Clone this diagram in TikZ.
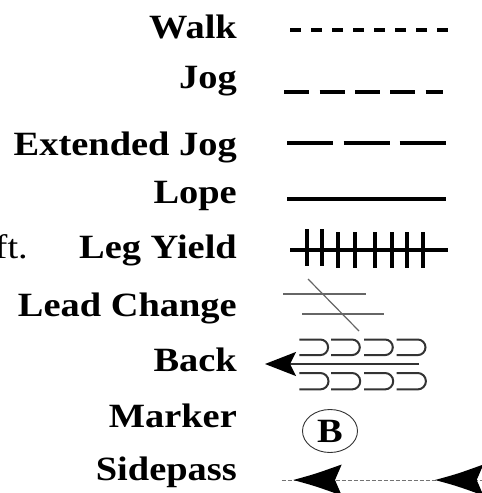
\documentclass[tikz,border=0pt]{standalone}
\usepackage{fontspec}
\setmainfont{Liberation Serif}[FakeStretch=1.13]
\usetikzlibrary{arrows.meta,shapes.geometric}
\tikzset{
  lbl/.style={anchor=base east,inner sep=0pt,font=\fontsize{34}{36}\selectfont\bfseries},
  thick line/.style={line width=4.2pt,black},
  yieldline/.style={line width=3.6pt,black},
  leadline/.style={line width=1.2pt,black!60},
  ushape/.style={line width=2pt,black!80},
  sidedash/.style={line width=1pt,black!55,dash pattern=on 4pt off 2pt},
  headfill/.style={fill=black},
}
\begin{document}
\begin{tikzpicture}[x=1pt,y=-1pt]
\useasboundingbox (0,0) rectangle (482,493);
\clip (0,0) rectangle (482,493);
% labels
\node[lbl] (lwalk) at (237,38) {Walk};
\node[lbl] (ljog) at (237,88) {Jog};
\node[lbl] (lext) at (237,155) {Extended Jog};
\node[lbl] (llope) at (237,203) {Lope};
\node[lbl] (lleg) at (237,258) {Leg Yield};
\node[lbl] (llead) at (237,316) {Lead Change};
\node[lbl] (lback) at (237,371) {Back};
\node[lbl] (lmark) at (237,427) {Marker};
\node[lbl] (lside) at (237,480) {Sidepass};
\node[anchor=base east,inner sep=0pt,font=\fontsize{34}{36}\selectfont] (lft) at (28,258) {ft.};
% walk
\coordinate (w1) at (290,30); \coordinate (w2) at (448.3,30);
\draw[thick line,dash pattern=on 11pt off 10.05pt] (w1) -- (w2);
% jog
\coordinate (j1) at (284.3,92); \coordinate (j2) at (442.7,92);
\draw[thick line,dash pattern=on 25pt off 10.35pt] (j1) -- (j2);
% extended jog
\coordinate (e1) at (287.3,143.3); \coordinate (e2) at (445.7,143.3);
\draw[thick line,dash pattern=on 46pt off 10.2pt] (e1) -- (e2);
% lope
\coordinate (l1) at (287.3,199.3); \coordinate (l2) at (445.7,199.3);
\draw[thick line] (l1) -- (l2);
% leg yield
\coordinate (y1) at (290,250); \coordinate (y2) at (448,250);
\draw[yieldline] (y1) -- (y2);
\foreach \x in {307,322} \draw[yieldline] (\x,229) -- (\x,266);
\foreach \x in {338,355,375,392,407,423} \draw[yieldline] (\x,232) -- (\x,268);
% lead change
\draw[leadline] (283,294) -- (366,294);
\draw[leadline] (302,314) -- (384,314);
\draw[leadline] (308,279) -- (359,331);
% back
\foreach \x in {299.3,331,364,396.7} {
  \draw[ushape] (\x,339.5) -- ++(21,0) arc[start angle=90,end angle=-90,radius=7.8pt] -- ++(-21,0);
  \draw[ushape] (\x,373) -- ++(21,0) arc[start angle=90,end angle=-90,radius=8.2pt] -- ++(-21,0);
}
\coordinate (b1) at (419,364); \coordinate (b2) at (265,364);
\draw[line width=2pt,black!80,-{Stealth[length=31pt,width=24pt,inset=6pt,black]}] (b1) -- (b2);
% marker
\node[draw=black!80,line width=0.9pt,ellipse,minimum width=55pt,minimum height=43pt,inner sep=0pt,font=\fontsize{34}{36}\selectfont\bfseries] (marker) at (330,431) {B};
% sidepass
\coordinate (s1) at (281.7,480); \coordinate (s2) at (490,480);
\draw[sidedash] (s1) -- (s2);
\fill[headfill] (293.3,480) .. controls (315,474) .. (341.7,464.5) -- (335,480) -- (341.7,495.5) .. controls (315,486) .. (293.3,480) -- cycle;
\fill[headfill] (435,480) .. controls (457,474) .. (483.4,464.5) -- (476.7,480) -- (483.4,495.5) .. controls (457,486) .. (435,480) -- cycle;
\end{tikzpicture}
\end{document}
